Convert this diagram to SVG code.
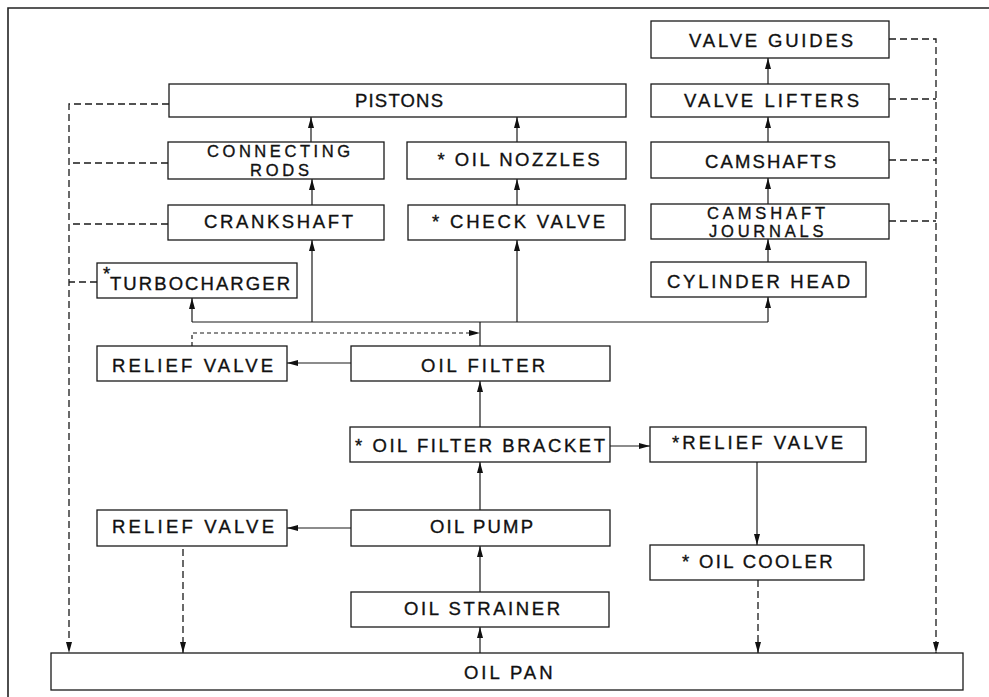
<svg xmlns="http://www.w3.org/2000/svg" width="989" height="697" viewBox="0 0 989 697">
<style>
  .box { fill: #fff; stroke: #1a1a1a; stroke-width: 1.3; }
  .lbl { font-family: "Liberation Sans", Arial, sans-serif; font-size: 18.5px; fill: #111; stroke: #111; stroke-width: 0.35; }
  .two { font-size: 16.5px; }
  .ln { fill: none; stroke: #1a1a1a; stroke-width: 1.2; }
  .dash { fill: none; stroke: #1a1a1a; stroke-width: 1.3; stroke-dasharray: 7 4; }
  .fdash { fill: none; stroke: #1a1a1a; stroke-width: 1.2; stroke-dasharray: 4 3; }
  .arr { marker-end: url(#ah); }
</style>
<defs>
  <marker id="ah" markerUnits="userSpaceOnUse" markerWidth="12" markerHeight="8" viewBox="0 0 12 8" refX="11" refY="4" orient="auto">
    <path d="M0,1 L11,4 L0,7 z" fill="#111"/>
  </marker>
</defs>
<rect width="989" height="697" fill="#fff"/>
<g id="frame">
  <path d="M8,697 V8 H989" fill="none" stroke="#222" stroke-width="1.6"/>
</g>
<g id="connectors">
  <path class="ln arr" d="M480,653 V627"/>
  <path class="ln arr" d="M480,592 V546"/>
  <path class="ln arr" d="M480,510 V462"/>
  <path class="ln arr" d="M480,427 V381"/>
  <path class="ln" d="M480,346 V322"/>
  <path class="ln" d="M192,322 H768"/>
  <path class="ln arr" d="M192,322 V298"/>
  <path class="ln arr" d="M312,322 V240"/>
  <path class="ln arr" d="M517,322 V240"/>
  <path class="ln arr" d="M768,322 V297"/>
  <path class="ln arr" d="M312,205 V179"/>
  <path class="ln arr" d="M311,142 V117"/>
  <path class="ln arr" d="M517,205 V179"/>
  <path class="ln arr" d="M517,142 V117"/>
  <path class="ln arr" d="M768,262 V239"/>
  <path class="ln arr" d="M768,204 V178"/>
  <path class="ln arr" d="M768,142 V117"/>
  <path class="ln arr" d="M768,84 V58"/>
  <path class="ln arr" d="M351,363 H287"/>
  <path class="ln arr" d="M351,528 H287"/>
  <path class="ln arr" d="M610,446 H650"/>
  <path class="ln arr" d="M757,462 V545"/>
  <path class="fdash arr" d="M192,346 V333 H480"/>
  <path class="dash arr" d="M169,104 H69 V653"/>
  <path class="dash" d="M168,163 H69"/>
  <path class="dash" d="M168,224 H69"/>
  <path class="dash" d="M97,282 H69"/>
  <path class="dash arr" d="M889,39 H936 V653"/>
  <path class="dash" d="M889,99 H936"/>
  <path class="dash" d="M889,160 H936"/>
  <path class="dash" d="M889,221 H936"/>
  <path class="dash arr" d="M183,549 V653"/>
  <path class="dash arr" d="M758,580 V653"/>
</g>
<g id="pistons"><rect class="box" x="169" y="84" width="457" height="33"/><text class="lbl" x="355" y="107" textLength="88" lengthAdjust="spacing">PISTONS</text></g>
<g id="connecting-rods"><rect class="box" x="168" y="142" width="216" height="37"/><text class="lbl two"><tspan x="207" y="157" textLength="143" lengthAdjust="spacing">CONNECTING</tspan><tspan x="250" y="175.5" textLength="59" lengthAdjust="spacing">RODS</tspan></text></g>
<g id="crankshaft"><rect class="box" x="168" y="205" width="216" height="35"/><text class="lbl" x="204" y="228" textLength="149" lengthAdjust="spacing">CRANKSHAFT</text></g>
<g id="oil-nozzles"><rect class="box" x="407" y="142" width="219" height="37"/><text class="lbl" x="437.5" y="166" textLength="162" lengthAdjust="spacing">* OIL NOZZLES</text></g>
<g id="check-valve"><rect class="box" x="408" y="205" width="217" height="35"/><text class="lbl" x="432" y="228" textLength="173" lengthAdjust="spacing">* CHECK VALVE</text></g>
<g id="turbocharger"><rect class="box" x="97" y="263" width="200" height="35"/><text class="lbl" x="103" y="280">*<tspan x="110" y="290" textLength="180" lengthAdjust="spacing">TURBOCHARGER</tspan></text></g>
<g id="valve-guides"><rect class="box" x="651" y="21" width="238" height="37"/><text class="lbl" x="689" y="47" textLength="164" lengthAdjust="spacing">VALVE GUIDES</text></g>
<g id="valve-lifters"><rect class="box" x="651" y="84" width="238" height="33"/><text class="lbl" x="684" y="107" textLength="175" lengthAdjust="spacing">VALVE LIFTERS</text></g>
<g id="camshafts"><rect class="box" x="651" y="142" width="238" height="36"/><text class="lbl" x="705" y="168" textLength="131" lengthAdjust="spacing">CAMSHAFTS</text></g>
<g id="camshaft-journals"><rect class="box" x="651" y="204" width="238" height="35"/><text class="lbl two"><tspan x="707" y="218.5" textLength="118" lengthAdjust="spacing">CAMSHAFT</tspan><tspan x="709" y="237" textLength="114.5" lengthAdjust="spacing">JOURNALS</tspan></text></g>
<g id="cylinder-head"><rect class="box" x="651" y="262" width="215" height="35"/><text class="lbl" x="667" y="288" textLength="183" lengthAdjust="spacing">CYLINDER HEAD</text></g>
<g id="relief-valve-1"><rect class="box" x="97" y="346" width="190" height="35"/><text class="lbl" x="112" y="372" textLength="161" lengthAdjust="spacing">RELIEF VALVE</text></g>
<g id="oil-filter"><rect class="box" x="351" y="346" width="259" height="35"/><text class="lbl" x="421" y="372" textLength="124" lengthAdjust="spacing">OIL FILTER</text></g>
<g id="oil-filter-bracket"><rect class="box" x="350" y="427" width="260" height="35"/><text class="lbl" x="355" y="452" textLength="250" lengthAdjust="spacing">* OIL FILTER BRACKET</text></g>
<g id="relief-valve-3"><rect class="box" x="650" y="427" width="216" height="35"/><text class="lbl" x="672" y="449" textLength="171" lengthAdjust="spacing">*RELIEF VALVE</text></g>
<g id="relief-valve-2"><rect class="box" x="97" y="510" width="190" height="36"/><text class="lbl" x="112" y="533" textLength="162" lengthAdjust="spacing">RELIEF VALVE</text></g>
<g id="oil-pump"><rect class="box" x="351" y="510" width="259" height="36"/><text class="lbl" x="430" y="533" textLength="103" lengthAdjust="spacing">OIL PUMP</text></g>
<g id="oil-cooler"><rect class="box" x="650" y="545" width="214" height="35"/><text class="lbl" x="682" y="568" textLength="150.5" lengthAdjust="spacing">* OIL COOLER</text></g>
<g id="oil-strainer"><rect class="box" x="351" y="592" width="258" height="35"/><text class="lbl" x="404" y="615" textLength="156" lengthAdjust="spacing">OIL STRAINER</text></g>
<g id="oil-pan"><rect class="box" x="51" y="653" width="912" height="37"/><text class="lbl" x="464" y="679" textLength="88.5" lengthAdjust="spacing">OIL PAN</text></g>
</svg>
